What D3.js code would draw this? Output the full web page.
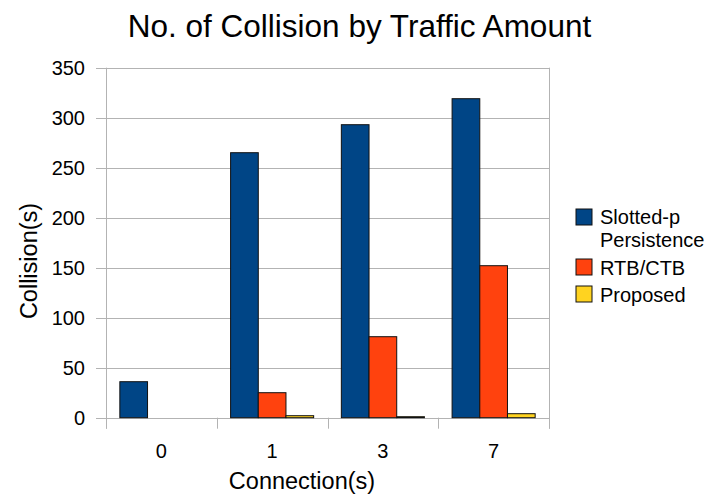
<!DOCTYPE html>
<html><head><meta charset="utf-8">
<script src="https://cdn.jsdelivr.net/npm/d3@7"></script>
<style>body{margin:0;background:#fff}svg{display:block}text{font-family:"Liberation Sans",Arial,sans-serif;fill:#000}</style>
</head><body><svg id="c" width="717" height="500"></svg>
<script>
const categories = ["0", "1", "3", "7"];
const seriesNames = ["Slotted-p Persistence", "RTB/CTB", "Proposed"];
const slottedP = [36, 265, 293, 319];
const rtbCtb = [0, 25, 81, 152];
const proposed = [0, 2, 1, 4];
const yTicks = [0, 50, 100, 150, 200, 250, 300, 350];
const colors = ["#004586", "#ff420e", "#ffd320"];
const seriesValues = [slottedP, rtbCtb, proposed];

const svg = d3.select("#c");
const L = 106, R = 549, T = 67.7, B = 417.7;
const x = d3.scaleBand().domain(categories).range([L, R]).paddingInner(0).paddingOuter(0);
const xs = d3.scaleBand().domain(d3.range(3)).range([0, x.bandwidth()]).paddingInner(0).paddingOuter(0.5);
const y = d3.scaleLinear().domain([0, 350]).range([B, T]);
const grid = "#b3b3b3";

// gridlines
svg.append("g").selectAll("line").data(yTicks).join("line")
  .attr("x1", L - 10).attr("x2", R).attr("y1", d => Math.round(y(d)) + 0.5).attr("y2", d => Math.round(y(d)) + 0.5)
  .attr("stroke", grid).attr("stroke-width", 1);
// y tick labels
svg.append("g").selectAll("text").data(yTicks).join("text")
  .attr("x", 85).attr("y", d => y(d) + 7).attr("text-anchor", "end").attr("font-size", 20)
  .text(d => d);
// left axis and right border
svg.append("line").attr("x1", L + 0.5).attr("x2", L + 0.5).attr("y1", T).attr("y2", B + 11).attr("stroke", grid);
svg.append("line").attr("x1", R + 0.5).attr("x2", R + 0.5).attr("y1", T).attr("y2", B + 11).attr("stroke", grid);
// x ticks at category boundaries
const bounds = categories.map(c => x(c)).concat([R]);
svg.append("g").selectAll("line").data(bounds).join("line")
  .attr("x1", d => Math.round(d) + 0.5).attr("x2", d => Math.round(d) + 0.5).attr("y1", B).attr("y2", B + 11)
  .attr("stroke", grid);
// x labels
svg.append("g").selectAll("text").data(categories).join("text")
  .attr("x", d => x(d) + x.bandwidth() / 2).attr("y", 458).attr("text-anchor", "middle").attr("font-size", 20)
  .text(d => d);

// bars
seriesValues.forEach((vals, si) => {
  svg.append("g").selectAll("rect").data(vals.map((v, i) => ({c: categories[i], v})).filter(d => d.v > 0)).join("rect")
    .attr("x", d => x(d.c) + xs(si))
    .attr("y", d => y(d.v))
    .attr("width", xs.bandwidth())
    .attr("height", d => y(0) - y(d.v))
    .attr("fill", colors[si]).attr("stroke", "#111").attr("stroke-width", 1);
});

// title
svg.append("text").attr("x", 359.5).attr("y", 37).attr("text-anchor", "middle").attr("font-size", 31.5)
  .text("No. of Collision by Traffic Amount");
// axis titles
svg.append("text").attr("x", 302).attr("y", 489).attr("text-anchor", "middle").attr("font-size", 23.5)
  .text("Connection(s)");
svg.append("text").attr("transform", "translate(37,261) rotate(-90)").attr("text-anchor", "middle").attr("font-size", 23.5)
  .text("Collision(s)");

// legend
const legend = [
  {lines: ["Slotted-p", "Persistence"], y: 209},
  {lines: ["RTB/CTB"], y: 259},
  {lines: ["Proposed"], y: 286}
];
legend.forEach((l, i) => {
  svg.append("rect").attr("x", 576).attr("y", l.y).attr("width", 16).attr("height", 16)
    .attr("fill", colors[i]).attr("stroke", "#111").attr("stroke-width", 1);
  const t = svg.append("text").attr("x", 600).attr("y", l.y + 16 - (l.lines.length > 1 ? 1 : 0)).attr("font-size", 20);
  l.lines.forEach((s, j) => {
    t.append("tspan").attr("x", 600).attr("dy", j === 0 ? 0 : 22.5).text(s);
  });
});
</script></body></html>
